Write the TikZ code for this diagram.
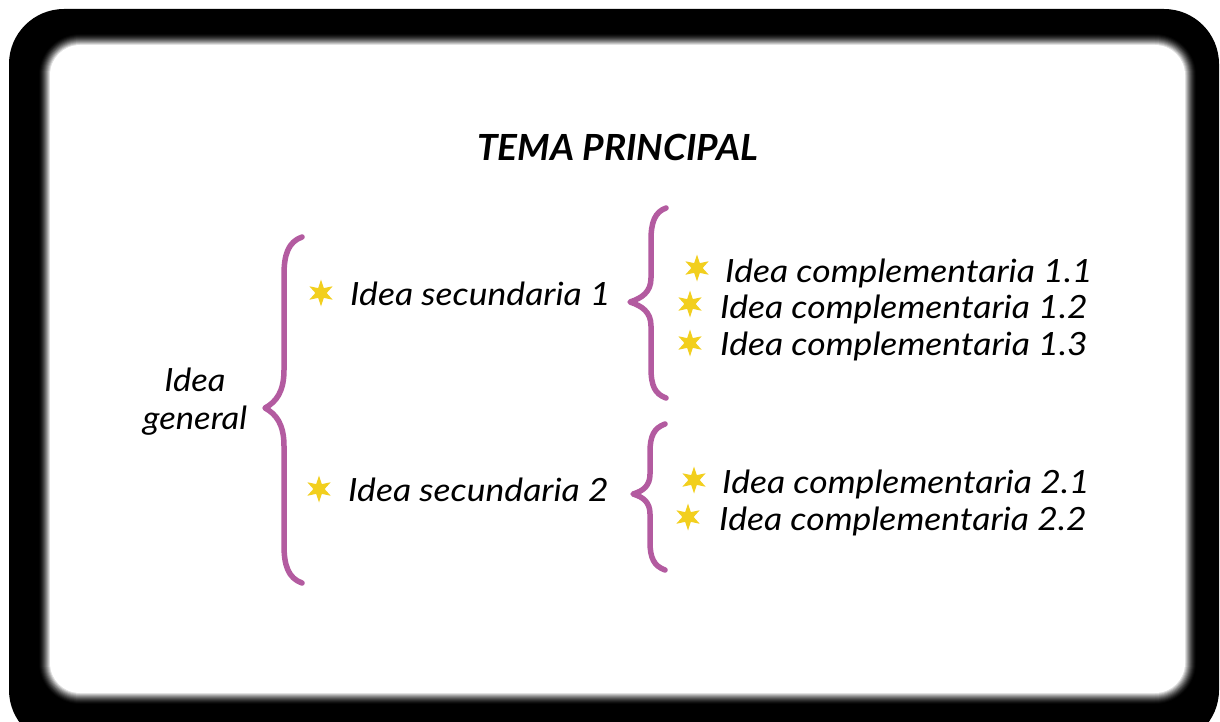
\documentclass[tikz,border=0pt]{standalone}
\usepackage{fontspec}
\setmainfont{Lato}
\usetikzlibrary{shapes.geometric}
\definecolor{bracepurple}{HTML}{B35BA0}
\definecolor{staryellow}{HTML}{F2CF1E}
\begin{document}
\begin{tikzpicture}[x=1pt,y=-1pt,
  brace/.style={draw=bracepurple, line width=5.5pt, line cap=round, line join=round},
  starnode/.style={star, star points=6, star point ratio=2.4, fill=staryellow, inner sep=0pt, minimum size=27pt, rotate=0},
  ideatext/.style={anchor=base west, inner sep=0pt, xscale=1.11, font=\fontsize{32}{38}\selectfont\itshape},
  gentext/.style={anchor=base, inner sep=0pt, xscale=1.08, font=\fontsize{32}{38}\selectfont\itshape},
  titletext/.style={anchor=base, inner sep=0pt, xscale=1.03, font=\fontsize{36}{40}\selectfont\bfseries\itshape}]
\useasboundingbox (0,0) rectangle (1220,722);
\fill[white] (0,0) rectangle (1220,722);
\fill[black, rounded corners=55pt] (9,9) rectangle (1219,745);
\foreach \i in {12,11,...,0}{
  \pgfmathsetmacro\c{100*(1-\i/12)^1.6}
  \pgfmathsetmacro\r{30+\i}
  \fill[white!\c!black, rounded corners=\r pt] (50-\i,45-\i) rectangle (1185+\i,693+\i);
}
% braces
\draw[brace] (302,237) .. controls (288,242) and (284,255) .. (284,275) -- (284,370) .. controls (284,392) and (276,402) .. (265,408) .. controls (276,414) and (284,424) .. (284,446) -- (284,545) .. controls (284,565) and (288,578) .. (302,583);
\draw[brace] (666,208) .. controls (655,212) and (651,222) .. (651,240) -- (651,278) .. controls (651,292) and (642,298) .. (630,302) .. controls (642,306) and (651,312) .. (651,326) -- (651,368) .. controls (651,386) and (655,394) .. (666,398);
\draw[brace] (665,424) .. controls (654,428) and (650,436) .. (650,452) -- (650,474) .. controls (650,486) and (643,491) .. (633,494) .. controls (643,497) and (650,502) .. (650,514) -- (650,542) .. controls (650,558) and (654,566) .. (665,570);
% title
\node[titletext] (title) at (618,161) {TEMA PRINCIPAL};
% general
\node[gentext] (gen1) at (195,391) {Idea};
\node[gentext] (gen2) at (195,429) {general};
% stars
\node[starnode] (st1) at (321,293) {};
\node[starnode] (st2) at (319,489) {};
\node[starnode] (st3) at (697,268) {};
\node[starnode] (st4) at (690,304) {};
\node[starnode] (st5) at (690,343) {};
\node[starnode] (st6) at (694,480) {};
\node[starnode] (st7) at (688,517) {};
% texts
\node[ideatext] (s1) at (350,305) {Idea secundaria 1};
\node[ideatext] (s2) at (348,501) {Idea secundaria 2};
\node[ideatext] (c11) at (725,282) {Idea complementaria 1.1};
\node[ideatext] (c12) at (720,318) {Idea complementaria 1.2};
\node[ideatext] (c13) at (720,355) {Idea complementaria 1.3};
\node[ideatext] (c21) at (722,493) {Idea complementaria 2.1};
\node[ideatext] (c22) at (719,530) {Idea complementaria 2.2};
\end{tikzpicture}
\end{document}
